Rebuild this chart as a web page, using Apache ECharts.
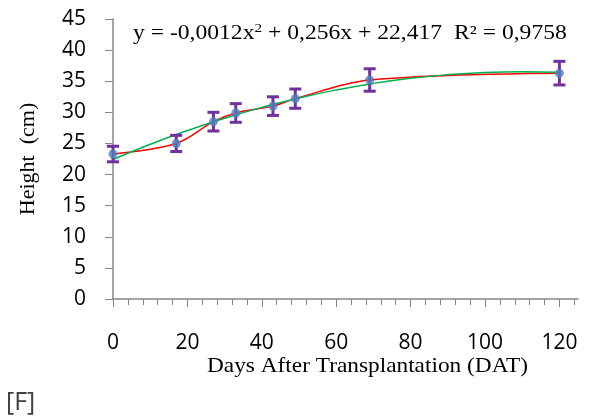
<!DOCTYPE html>
<html>
<head>
<meta charset="utf-8">
<script src="https://cdn.jsdelivr.net/npm/echarts@6/dist/echarts.min.js"></script>
<style>
  html, body { margin: 0; padding: 0; background: #ffffff; }
  #chart { width: 589px; height: 420px; }
</style>
</head>
<body>
<div id="chart"></div>
<script>
// Plant height over days after transplantation
const days = [0, 17, 27, 33, 43, 49, 69, 120];
const meanHeight = [23.3, 25.0, 28.5, 29.9, 31.0, 32.2, 35.2, 36.3];
const errHalf = [1.25, 1.3, 1.5, 1.5, 1.5, 1.55, 1.8, 1.9];

// Quadratic trend curve, sampled every 10 days
const trendDays = [0, 10, 20, 30, 40, 50, 60, 70, 80, 90, 100, 110, 120];
const trendHeight = [22.42, 24.86, 27.07, 29.05, 30.80, 32.32, 33.60, 34.65, 35.47, 36.06, 36.42, 36.54, 36.43];

const xTickLabels = [0, 20, 40, 60, 80, 100, 120];
const yTickLabels = [0, 5, 10, 15, 20, 25, 30, 35, 40, 45];

const axisGray = '#868686';
const labelFont = 'Open Sans';
const serifFont = 'Liberation Serif';

const minorTicks = [];
for (let v = 0; v <= 124; v += 4) minorTicks.push(v);

const chart = echarts.init(document.getElementById('chart'));

const xBase = {
  type: 'value',
  min: 0,
  max: 125,
  interval: 20
};

chart.setOption({
  animation: false,
  backgroundColor: '#ffffff',
  grid: { left: 113, right: 11, top: 19, bottom: 121, containLabel: false },
  xAxis: [
    Object.assign({}, xBase, {
      position: 'bottom',
      axisLine: { show: true, onZero: false, lineStyle: { color: axisGray, width: 1.5 } },
      axisTick: { show: true, inside: false, length: 8, customValues: xTickLabels, lineStyle: { color: axisGray, width: 1 } },
      axisLabel: { show: true, customValues: xTickLabels, margin: 34, fontFamily: labelFont, fontSize: 21, color: '#000' },
      splitLine: { show: false }
    }),
    Object.assign({}, xBase, {
      position: 'bottom',
      axisLine: { show: false },
      axisTick: { show: true, inside: false, length: 6, customValues: minorTicks, lineStyle: { color: axisGray, width: 1 } },
      axisLabel: { show: false },
      splitLine: { show: false }
    })
  ],
  yAxis: {
    type: 'value',
    min: 0,
    max: 45,
    interval: 5,
    axisLine: { show: true, lineStyle: { color: axisGray, width: 1.5 } },
    axisTick: { show: true, inside: false, length: 8, lineStyle: { color: axisGray, width: 1 } },
    axisLabel: {
      margin: 27, fontFamily: labelFont, fontSize: 21, color: '#000',
      customValues: yTickLabels
    },
    splitLine: { show: false },
    name: 'Height  (cm)',
    nameLocation: 'middle',
    nameRotate: 90,
    nameGap: 74,
    nameTextStyle: { fontFamily: serifFont, fontSize: 22, color: '#000' }
  },
  graphic: [
    {
      type: 'text',
      left: 133,
      top: 22,
      scaleX: 1.18,
      style: {
        text: '{a|y = -0,0012x}{s|2}{a| + 0,256x + 22,417  R² = 0,9758}',
        rich: {
          a: { fontFamily: serifFont, fontSize: 20, lineHeight: 24, verticalAlign: 'middle', fill: '#000' },
          s: { fontFamily: serifFont, fontSize: 13, lineHeight: 14, verticalAlign: 'top', fill: '#000' }
        }
      }
    },
    {
      // x-axis title
      type: 'text',
      x: 207,
      y: 356,
      scaleX: 1.11,
      style: { text: 'Days After Transplantation (DAT)', fontFamily: serifFont, fontSize: 21, fill: '#000', textVerticalAlign: 'top' }
    },
    {
      type: 'text',
      left: 6,
      top: 390,
      style: { text: '[F]', fontFamily: labelFont, fontSize: 25, fill: '#404040' }
    }
  ],
  series: [
    {
      name: 'Mean',
      type: 'line',
      xAxisIndex: 0,
      data: days.map((d, i) => [d, meanHeight[i]]),
      smooth: 0.35,
      symbol: 'none',
      lineStyle: { color: '#ff0000', width: 1.5 },
      z: 2
    },
    {
      name: 'Trend',
      type: 'line',
      xAxisIndex: 0,
      data: trendDays.map((d, i) => [d, trendHeight[i]]),
      smooth: true,
      symbol: 'none',
      lineStyle: { color: '#00b050', width: 1.5 },
      z: 3
    },
    {
      name: 'Error',
      type: 'custom',
      xAxisIndex: 0,
      data: days.map((d, i) => [d, meanHeight[i] - errHalf[i], meanHeight[i] + errHalf[i]]),
      renderItem: function (params, api) {
        const lo = api.coord([api.value(0), api.value(1)]);
        const hi = api.coord([api.value(0), api.value(2)]);
        const hw = 6;
        const st = { stroke: '#7030a0', lineWidth: 3, fill: null };
        return {
          type: 'group',
          children: [
            { type: 'line', shape: { x1: lo[0], y1: lo[1], x2: hi[0], y2: hi[1] }, style: st },
            { type: 'line', shape: { x1: lo[0] - hw, y1: lo[1], x2: lo[0] + hw, y2: lo[1] }, style: st },
            { type: 'line', shape: { x1: hi[0] - hw, y1: hi[1], x2: hi[0] + hw, y2: hi[1] }, style: st }
          ]
        };
      },
      z: 4
    },
    {
      name: 'Points',
      type: 'scatter',
      xAxisIndex: 0,
      data: days.map((d, i) => [d, meanHeight[i]]),
      symbol: 'circle',
      symbolSize: 9,
      itemStyle: { color: '#4f81bd' },
      z: 5
    }
  ]
});
</script>
</body>
</html>
